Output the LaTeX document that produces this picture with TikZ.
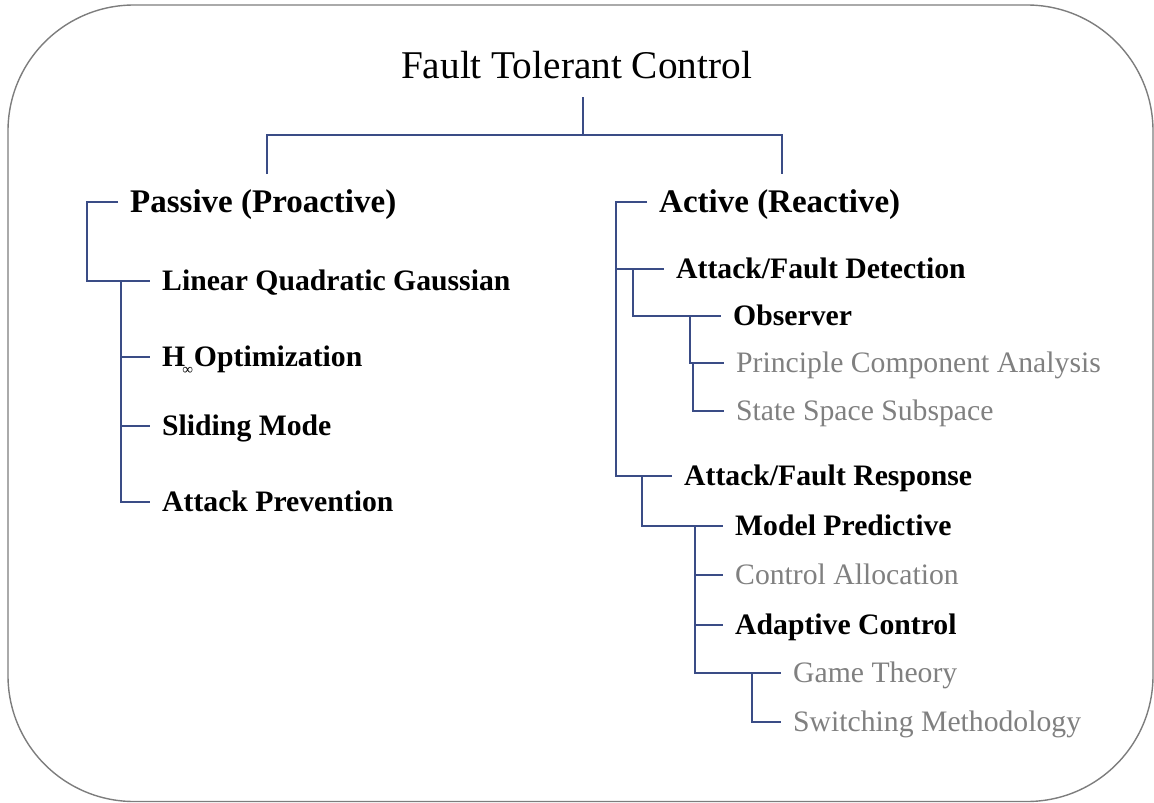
\documentclass[tikz,border=0pt]{standalone}
\usepackage{fontspec}
\setmainfont{Liberation Serif}
\definecolor{linkblue}{RGB}{58,76,134}
\definecolor{framegray}{RGB}{125,125,125}
\definecolor{leafgray}{RGB}{128,128,128}
\tikzset{
  base/.style={anchor=west, inner xsep=12pt, inner ysep=0pt, text depth=0pt},
  headlbl/.style={base, font=\fontsize{33}{40}\selectfont\bfseries, text height=21.85pt},
  itemlbl/.style={base, font=\fontsize{29.7}{36}\selectfont\bfseries, text height=19.66pt},
  leaflbl/.style={base, font=\fontsize{29.7}{36}\selectfont, text height=19.66pt, text=leafgray},
  link/.style={draw=linkblue, line width=1.1pt},
}
\begin{document}
\begin{tikzpicture}[x=1pt, y=-1pt]
\useasboundingbox (0,0) rectangle (1154,803);
% outer rounded frame
\draw[framegray, line width=1.4pt, rounded corners=126pt] (8,5) rectangle (1153,801.5);

% title
\node[anchor=base, inner sep=0pt, font=\fontsize{39.3}{47}\selectfont] (title) at (576.5,78) {Fault Tolerant Control};

% left branch
\node[headlbl] (passive) at (118,202) {Passive (Proactive)};
\node[itemlbl] (lqg)   at (150,281) {Linear Quadratic Gaussian};
\node[itemlbl] (hinf)  at (150,357) {H\hspace{-3pt}\raisebox{-8pt}{\fontsize{15}{15}\selectfont\mdseries ∞}\hspace{1pt}Optimization};
\node[itemlbl] (slide) at (150,426) {Sliding Mode};
\node[itemlbl] (ap)    at (150,502) {Attack Prevention};

% right branch
\node[headlbl] (active) at (647,202) {Active (Reactive)};
\node[itemlbl] (afd) at (664,269) {Attack/Fault Detection};
\node[itemlbl] (obs) at (721,316) {Observer};
\node[leaflbl] (pca) at (724,363) {Principle Component Analysis};
\node[leaflbl] (sss) at (724,411) {State Space Subspace};
\node[itemlbl] (afr) at (672,476) {Attack/Fault Response};
\node[itemlbl] (mp)  at (723,526) {Model Predictive};
\node[leaflbl] (ca)  at (723,575) {Control Allocation};
\node[itemlbl] (ac)  at (723,625) {Adaptive Control};
\node[leaflbl] (gt)  at (781,673) {Game Theory};
\node[leaflbl] (sm)  at (781,722) {Switching Methodology};

% junction points and spines
\coordinate (tj) at (583,135);
\coordinate (pdrop) at (267,174);
\coordinate (adrop) at (782,174);
\coordinate (spP) at (87,0);
\coordinate (spL) at (121,0);
\coordinate (spA) at (616,0);
\coordinate (spD) at (633,0);
\coordinate (spO) at (690,0);
\coordinate (spC) at (693,0);
\coordinate (spR) at (642,0);
\coordinate (spM) at (695,0);
\coordinate (spG) at (752,0);

% top bracket
\draw[link] ([yshift=-19pt]title.base -| tj) -- (tj);
\draw[link] (pdrop) -- (pdrop |- tj) -- (adrop |- tj) -- (adrop);

% left connectors
\draw[link] (passive.west) -- (passive.west -| spP) |- (lqg.west);
\draw[link] (lqg.west -| spL) |- (ap.west);
\draw[link] (hinf.west -| spL) -- (hinf.west);
\draw[link] (slide.west -| spL) -- (slide.west);

% right connectors
\draw[link] (active.west) -- (active.west -| spA) |- (afr.west);
\draw[link] (afd.west -| spA) -- (afd.west);
\draw[link] (afd.west -| spD) |- (obs.west);
\draw[link] (obs.west -| spO) |- (pca.west);
\draw[link] (pca.west -| spC) |- (sss.west);
\draw[link] (afr.west -| spR) |- (mp.west);
\draw[link] (mp.west -| spM) |- (gt.west);
\draw[link] (ca.west -| spM) -- (ca.west);
\draw[link] (ac.west -| spM) -- (ac.west);
\draw[link] (gt.west -| spG) |- (sm.west);
\end{tikzpicture}
\end{document}
